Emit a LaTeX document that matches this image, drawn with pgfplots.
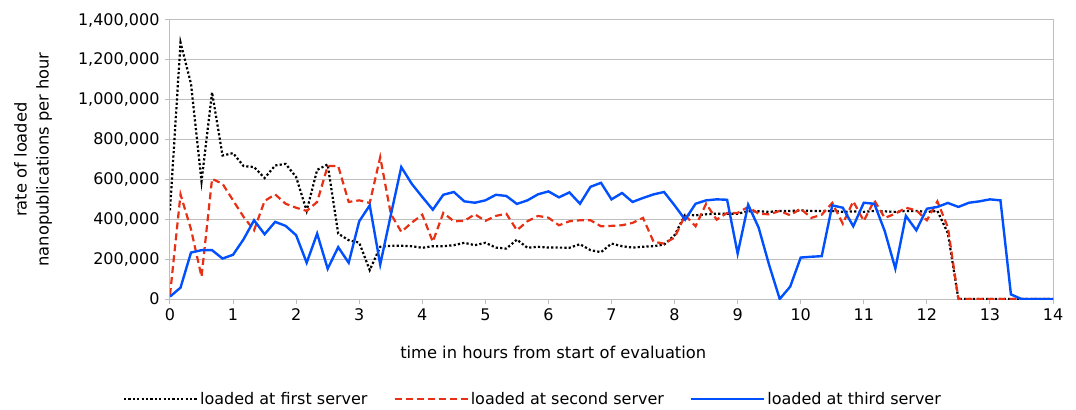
\documentclass[border=0pt]{standalone}
\usepackage{fontspec}
\setmainfont{DejaVu Sans}
\usepackage{pgfplots}
\usepackage{pgfplotstable}
\pgfplotsset{compat=1.18}
\definecolor{gridgray}{RGB}{190,190,190}
\definecolor{redser}{RGB}{232,48,20}
\definecolor{blueser}{RGB}{0,80,255}

\pgfplotstableread{
t a b c
0 445000 20000 12000
0.167 1287000 525000 57000
0.333 1080000 350000 233000
0.5 590000 112000 245000
0.667 1037000 603000 245000
0.833 720000 578000 203000
1.0 732000 495000 222000
1.167 667000 412000 300000
1.333 662000 345000 395000
1.5 607000 492000 325000
1.667 670000 525000 387000
1.833 678000 478000 367000
2.0 612000 458000 320000
2.167 442000 442000 182000
2.333 648000 487000 328000
2.5 675000 667000 152000
2.667 328000 667000 260000
2.833 295000 487000 182000
3.0 283000 495000 390000
3.167 145000 482000 470000
3.333 262000 712000 173000
3.5 267000 428000 420000
3.667 267000 337000 662000
3.833 265000 383000 578000
4.0 257000 423000 512000
4.167 265000 287000 448000
4.333 265000 432000 523000
4.5 270000 390000 537000
4.667 282000 392000 490000
4.833 270000 425000 483000
5.0 282000 392000 495000
5.167 258000 417000 523000
5.333 253000 428000 517000
5.5 298000 345000 477000
5.667 257000 390000 495000
5.833 262000 417000 525000
6.0 258000 408000 540000
6.167 258000 370000 510000
6.333 257000 390000 535000
6.5 275000 395000 478000
6.667 245000 395000 563000
6.833 235000 365000 583000
7.0 278000 367000 500000
7.167 265000 370000 532000
7.333 258000 382000 487000
7.5 262000 407000 507000
7.667 265000 287000 525000
7.833 273000 278000 537000
8.0 320000 308000 470000
8.167 423000 420000 398000
8.333 420000 365000 478000
8.5 425000 478000 495000
8.667 428000 398000 500000
8.833 428000 432000 498000
9.0 428000 432000 228000
9.167 440000 462000 473000
9.333 440000 428000 358000
9.5 437000 425000 170000
9.667 442000 442000 0
9.833 442000 420000 62000
10.0 445000 453000 208000
10.167 442000 407000 212000
10.333 442000 423000 215000
10.5 442000 482000 470000
10.667 437000 378000 458000
10.833 440000 490000 365000
11.0 437000 392000 483000
11.167 442000 495000 478000
11.333 440000 407000 340000
11.5 437000 428000 153000
11.667 442000 458000 417000
11.833 442000 445000 345000
12.0 437000 395000 453000
12.167 442000 490000 462000
12.333 330000 360000 482000
12.5 0 0 462000
12.667 0 0 483000
12.833 0 0 490000
13.0 0 0 500000
13.167 0 0 495000
13.333 0 0 23000
13.5 0 0 0
13.667 0 0 0
13.833 0 0 0
14.0 0 0 0
}\datatable

\begin{document}
\begin{tikzpicture}
\useasboundingbox (-170bp,-111bp) rectangle (906bp,299bp);
\begin{axis}[
  at={(0,0)}, anchor=south west,
  width=883bp, height=279bp, scale only axis,
  xmin=0, xmax=14, ymin=0, ymax=1400000,
  xtick={0,1,2,3,4,5,6,7,8,9,10,11,12,13,14},
  ytick={0,200000,400000,600000,800000,1000000,1200000,1400000},
  scaled y ticks=false,
  /pgf/number format/.cd, fixed, 1000 sep={,}, assume math mode=true,
  /pgfplots/.cd,
  ymajorgrids,
  major grid style={gridgray, line width=1bp},
  axis line style={gridgray, line width=1bp},
  tick style={gridgray, line width=1bp},
  tick align=outside, major tick length=5bp,
  tick pos=left,
  ticklabel style={font=\fontsize{16bp}{19bp}\selectfont, text=black},
  xticklabel style={yshift=-1bp},
  yticklabel style={xshift=-2bp},
  xlabel={time in hours from start of evaluation},
  ylabel={rate of loaded\\nanopublications per hour},
  xlabel style={at={(axis description cs:0.434,-0.19)}, anchor=center, font=\fontsize{16.3bp}{19bp}\selectfont},
  ylabel style={at={(axis description cs:-0.155,0.5)}, anchor=center, rotate=0, align=center, font=\fontsize{16.3bp}{22bp}\selectfont},
  legend columns=3,
  legend style={at={(axis description cs:0.411,-0.358)}, anchor=center, draw=none, fill=none,
    font=\fontsize{16bp}{19bp}\selectfont,
    /tikz/every even column/.append style={column sep=24bp}},
  legend cell align=left,
  legend image code/.code={\draw[#1] (0bp,0bp) -- (73bp,0bp);},
]
\addplot[black, line width=2.2bp, dash pattern=on 2.2bp off 2.2bp] table[x=t, y=a] {\datatable};
\addlegendentry{loaded at first server}
\addplot[redser, line width=2.2bp, dash pattern=on 7bp off 4bp] table[x=t, y=b] {\datatable};
\addlegendentry{loaded at second server}
\addplot[blueser, line width=2.4bp] table[x=t, y=c] {\datatable};
\addlegendentry{loaded at third server}
\end{axis}
\end{tikzpicture}
\end{document}
